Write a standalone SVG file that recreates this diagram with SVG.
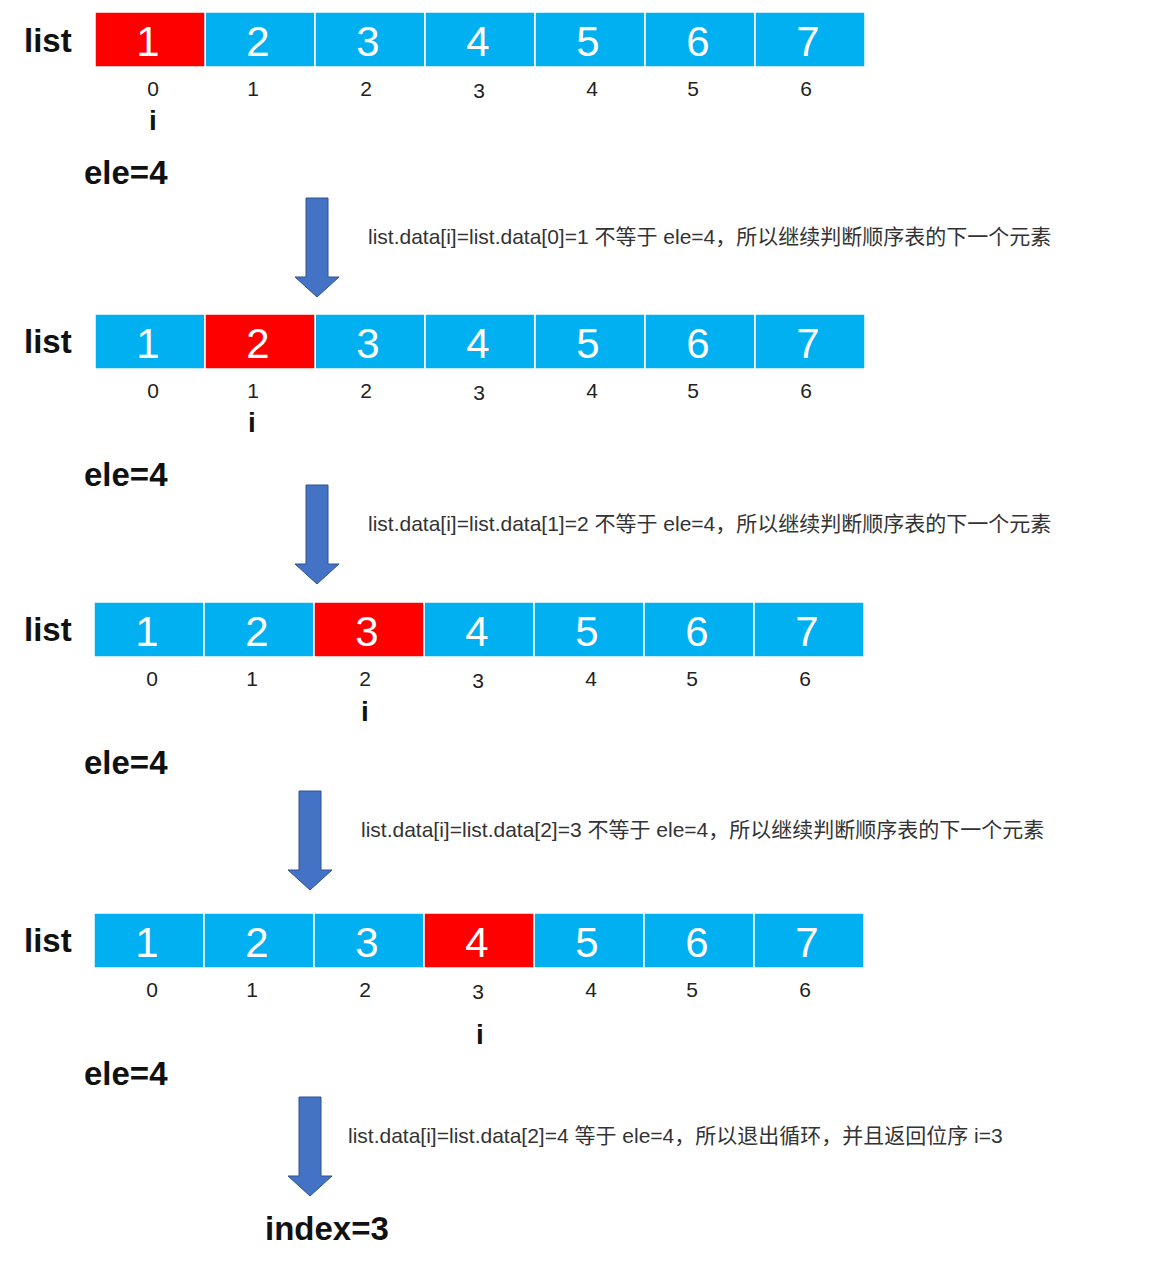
<svg xmlns="http://www.w3.org/2000/svg" width="1162" height="1271" viewBox="0 0 1162 1271">
<style>
.c{fill:#00b0f0;stroke:#fff;stroke-width:1.5}
.r{fill:#ff0000;stroke:#fff;stroke-width:1.5}
.n{font-family:"Liberation Sans",sans-serif;font-size:42px;fill:#fff;text-anchor:middle}
.ix{font-family:"Liberation Sans",sans-serif;font-size:21px;fill:#222;text-anchor:middle}
.lb{font-family:"Liberation Sans",sans-serif;font-size:33px;font-weight:bold;fill:#111}
.ii{font-family:"Liberation Sans",sans-serif;font-size:28px;font-weight:bold;fill:#111;text-anchor:middle}
.t{font-family:"Liberation Sans","Noto Sans CJK SC",sans-serif;font-size:21px;fill:#333}
.a{fill:#4472c4;stroke:#2f528f;stroke-width:1}
</style>
<defs>
<g id="row">
<rect class="c" x="0" y="0" width="110" height="55"/><rect class="c" x="110" y="0" width="110" height="55"/><rect class="c" x="220" y="0" width="110" height="55"/><rect class="c" x="330" y="0" width="110" height="55"/><rect class="c" x="440" y="0" width="110" height="55"/><rect class="c" x="550" y="0" width="110" height="55"/><rect class="c" x="660" y="0" width="110" height="55"/>
</g>
<g id="nums">
<text class="n" x="53" y="44">1</text><text class="n" x="163" y="44">2</text><text class="n" x="273" y="44">3</text><text class="n" x="383" y="44">4</text><text class="n" x="493" y="44">5</text><text class="n" x="603" y="44">6</text><text class="n" x="713" y="44">7</text>
<text class="ix" x="58" y="84">0</text><text class="ix" x="158" y="84">1</text><text class="ix" x="271" y="84">2</text><text class="ix" x="384" y="86">3</text><text class="ix" x="497" y="84">4</text><text class="ix" x="598" y="84">5</text><text class="ix" x="711" y="84">6</text>
</g>
</defs>
<g id="row1" transform="translate(95,12)"><use href="#row"/><rect class="r" x="0" y="0" width="110" height="55"/><use href="#nums"/></g>
<g id="row2" transform="translate(95,314)"><use href="#row"/><rect class="r" x="110" y="0" width="110" height="55"/><use href="#nums"/></g>
<g id="row3" transform="translate(94,602)"><use href="#row"/><rect class="r" x="220" y="0" width="110" height="55"/><use href="#nums"/></g>
<g id="row4" transform="translate(94,913)"><use href="#row"/><rect class="r" x="330" y="0" width="110" height="55"/><use href="#nums"/></g>
<g id="labels">
<text class="lb" x="24" y="52">list</text><text class="lb" x="24" y="353">list</text><text class="lb" x="24" y="641">list</text><text class="lb" x="24" y="952">list</text>
<text class="ii" x="153" y="130">i</text><text class="ii" x="252" y="432">i</text><text class="ii" x="365" y="721">i</text><text class="ii" x="480" y="1044">i</text>
<text class="lb" x="84" y="184">ele=4</text><text class="lb" x="84" y="486">ele=4</text><text class="lb" x="84" y="774">ele=4</text><text class="lb" x="84" y="1085">ele=4</text>
<text class="lb" x="265" y="1240">index=3</text>
<text class="t" x="368" y="244">list.data[i]=list.data[0]=1 不等于 ele=4，所以继续判断顺序表的下一个元素</text>
<text class="t" x="368" y="531">list.data[i]=list.data[1]=2 不等于 ele=4，所以继续判断顺序表的下一个元素</text>
<text class="t" x="361" y="837">list.data[i]=list.data[2]=3 不等于 ele=4，所以继续判断顺序表的下一个元素</text>
<text class="t" x="348" y="1143">list.data[i]=list.data[2]=4 等于 ele=4，所以退出循环，并且返回位序 i=3</text>
</g>
<g id="connectors">
<path class="a" d="M306,198H328V277H339L317,297L295,277H306Z"/>
<path class="a" d="M306,485H328V564H339L317,584L295,564H306Z"/>
<path class="a" d="M299,791H321V870H332L310,890L288,870H299Z"/>
<path class="a" d="M299,1097H321V1176H332L310,1196L288,1176H299Z"/>
</g>
</svg>
